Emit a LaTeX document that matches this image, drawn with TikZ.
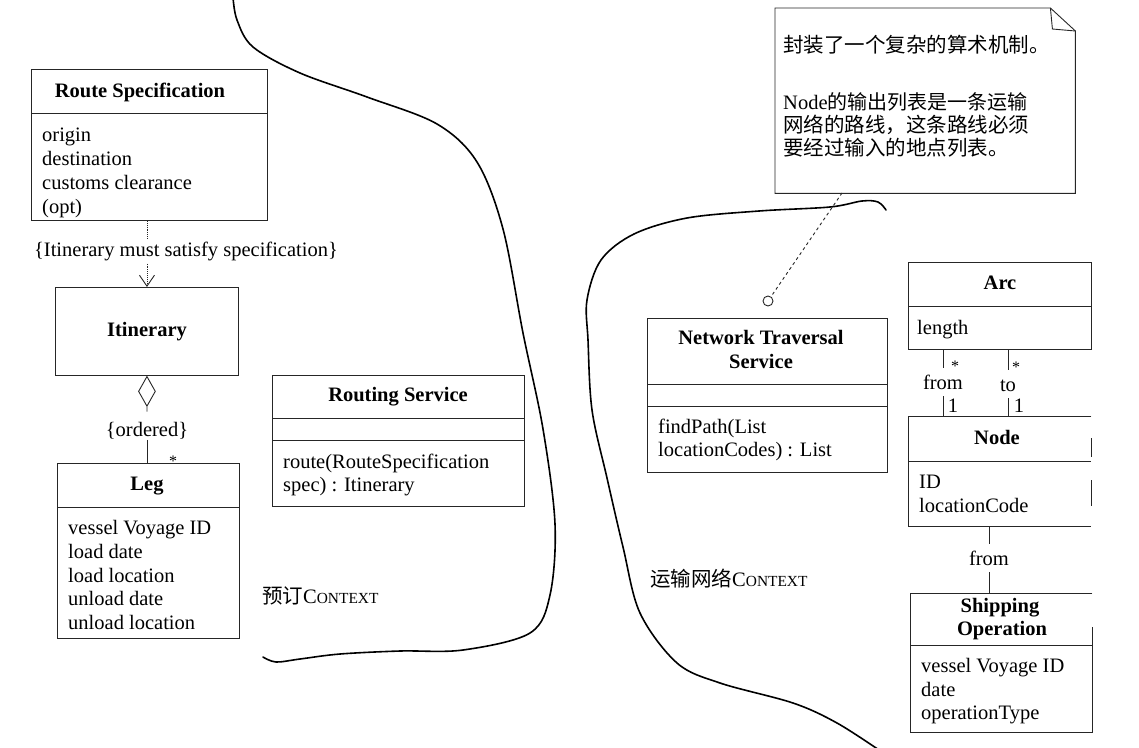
\documentclass[tikz,border=0pt]{standalone}
\usepackage{fontspec}
\setmainfont{Liberation Serif}
\newfontfamily\cjk{Noto Sans CJK SC}
\usetikzlibrary{shapes.geometric,arrows.meta}
\newcommand{\ctxword}{C{\fontsize{15.4}{18}\selectfont ONTEXT}}
\begin{document}
\begin{tikzpicture}[x=1pt,y=-1pt,
  every node/.style={font=\fontsize{20.5}{24}\selectfont},
  cbox/.style={draw=black!85, line width=0.9pt, inner sep=0pt, anchor=north west},
  hbox/.style={draw=none, inner sep=0pt, anchor=north west},
  edge/.style={draw=black!85, line width=0.9pt},
  div/.style={draw=black!85, line width=0.9pt},
  ttl/.style={font=\fontsize{20.5}{24}\selectfont\bfseries, anchor=base, inner sep=0pt},
  attr/.style={anchor=base west, inner sep=0pt},
  lbl/.style={anchor=base, inner xsep=0pt, inner ysep=3pt},
  role/.style={anchor=base, text height=14pt, text depth=0pt, inner ysep=7pt, inner xsep=0pt},
  mult/.style={anchor=base, inner sep=0pt, font=\fontsize{16}{18}\selectfont},
  one/.style={anchor=base, inner sep=0pt},
  ctx/.style={anchor=base west, inner sep=0pt},
  boundary/.style={line width=1.6pt, line cap=round, line join=round}
]
\useasboundingbox (0,0) rectangle (1139,747);

% ---------- context boundaries ----------
\draw[boundary] plot[smooth, tension=0.55] coordinates {(233,-3) (237,20) (253,47) (300,73) (367,97) (437,124) (477,162) (503,229) (523,333) (543,429) (555,524) (550,595) (530,633) (463,650) (400,651) (340,654) (300,659) (276,662) (263,657)};
\draw[boundary] plot[smooth, tension=0.55] coordinates {(886,210) (878,202) (862,201) (830,207) (759,211) (687,218) (634,234) (601,260) (587,300) (588,340) (592,410) (607,478) (623,547) (640,613) (677,663) (720,683) (793,703) (837,723) (882,752)};

% ---------- Route Specification ----------
\node[cbox, minimum width=236pt, minimum height=151pt] (rs) at (31,69) {};
\draw[div] (rs.west |- 0,113) -- (rs.east |- 0,113);
\node[ttl] (rsT) at (140,97) {Route Specification};
\node[attr] (rs1) at (42,141) {origin};
\node[attr] (rs2) at (42,165) {destination};
\node[attr] (rs3) at (42,189) {customs clearance};
\node[attr] (rs4) at (42,213) {(opt)};

% ---------- Itinerary ----------
\node[cbox, minimum width=183pt, minimum height=88pt] (it) at (55,287) {};
\node[ttl] (itT) at (147,336) {Itinerary};

\node[lbl] (dep) at (186,256) {\{Itinerary must satisfy specification\}};
\draw[edge, densely dotted] (rs.south -| it.north) -- (dep.north -| it.north);
\draw[edge, densely dotted, -{Straight Barb[length=11pt,width=15pt]}] (dep.south -| it.north) -- (it.north);

% ---------- aggregation ----------
\node[draw=black!85, line width=0.9pt, diamond, minimum width=17pt, minimum height=30pt, inner sep=0pt, anchor=north] (dia) at (it.south) {};
\node[lbl, inner ysep=1pt] (ord) at (147,436) {\{ordered\}};
\draw[edge, shorten >=9pt] (dia.south) -- (ord.north);

% ---------- Leg ----------
\node[cbox, minimum width=182pt, minimum height=175pt] (leg) at (57,463) {};
\draw[div] (leg.west |- 0,507) -- (leg.east |- 0,507);
\node[ttl] (legT) at (147,490) {Leg};
\draw[edge] (ord.south) -- (leg.north -| ord.south);
\node[mult] (legM) at (173,466) {*};
\node[attr] (leg1) at (68,534) {vessel Voyage ID};
\node[attr] (leg2) at (68,558) {load date};
\node[attr] (leg3) at (68,582) {load location};
\node[attr] (leg4) at (68,605) {unload date};
\node[attr] (leg5) at (68,629) {unload location};

% ---------- Routing Service ----------
\node[cbox, minimum width=252pt, minimum height=131pt] (rsv) at (272,375) {};
\draw[div] (rsv.west |- 0,418) -- (rsv.east |- 0,418);
\draw[div] (rsv.west |- 0,440) -- (rsv.east |- 0,440);
\node[ttl] (rsvT) at (398,401) {Routing Service};
\node[attr] (rsv1) at (283,468) {route(RouteSpecification};
\node[attr] (rsv2) at (283,491) {spec) : Itinerary};

\node[ctx] (ctx1) at (262,603) {{\cjk 预订}\ctxword};

% ---------- Note ----------
\node[hbox, minimum width=300pt, minimum height=185pt] (note) at (775,8) {};
\draw[edge] (note.south west) -- (note.north west) -- ([xshift=-25pt]note.north east) -- ([yshift=-23pt]note.north east) -- (note.south east) -- cycle;
\draw[edge] ([xshift=-25pt]note.north east) -- ([xshift=-23pt,yshift=-21pt]note.north east) -- ([yshift=-23pt]note.north east);
\node[attr] (n1) at (783,52) {\cjk\fontsize{20.5}{24}\selectfont 封装了一个复杂的算术机制。};
\node[attr] (n2) at (783,109) {Node{\cjk\fontsize{20}{24}\selectfont 的输出列表是一条运输}};
\node[attr] (n3) at (783,132) {\cjk\fontsize{20.5}{24}\selectfont 网络的路线，这条路线必须};
\node[attr] (n4) at (783,155) {\cjk\fontsize{20.5}{24}\selectfont 要经过输入的地点列表。};

\node[circle, draw=black!85, line width=0.9pt, minimum size=10pt, inner sep=0pt] (ball) at (768,301) {};
\coordinate (noteFoot) at (842,193);
\draw[edge, dashed] (noteFoot) -- (ball);

% ---------- Network Traversal Service ----------
\node[cbox, minimum width=240pt, minimum height=154pt] (nts) at (647,318) {};
\draw[div] (nts.west |- 0,384) -- (nts.east |- 0,384);
\draw[div] (nts.west |- 0,406) -- (nts.east |- 0,406);
\node[ttl] (ntsT1) at (761,344) {Network Traversal};
\node[ttl] (ntsT2) at (761,368) {Service};
\node[attr] (nts1) at (658,433) {findPath(List};
\node[attr] (nts2) at (658,456) {locationCodes) : List};

\node[ctx] (ctx2) at (650,586) {{\cjk 运输网络}\ctxword};

% ---------- Arc ----------
\node[cbox, minimum width=183pt, minimum height=87pt] (arc) at (908,262) {};
\draw[div] (arc.west |- 0,306) -- (arc.east |- 0,306);
\node[ttl] (arcT) at (1000,289) {Arc};
\node[attr] (arc1) at (917,334) {length};

% ---------- Node ----------
\node[hbox, minimum width=183pt, minimum height=110pt] (nd) at (908,416) {};
\draw[edge] (nd.north east) -- (nd.north west) -- (nd.south west) -- (nd.south east);
\draw[edge] (nd.east |- 0,438) -- (nd.east |- 0,457);
\draw[edge] (nd.east |- 0,480) -- (nd.east |- 0,506);
\draw[div] (nd.west |- 0,461) -- (nd.east |- 0,461);
\node[ttl] (ndT) at (997,444) {Node};
\node[attr] (nd1) at (919,488) {ID};
\node[attr] (nd2) at (919,512) {locationCode};

% Arc -- Node associations
\node[role] (rf) at (943,389) {from};
\draw[edge] (arc.south -| rf) -- (rf.north);
\draw[edge] (rf.south) -- (nd.north -| rf);
\node[mult] (rfM) at (955,371) {*};
\node[one] (rf1) at (953,412) {1};
\node[role] (rt) at (1008,391) {to};
\draw[edge] (arc.south -| rt) -- (rt.north);
\draw[edge] (rt.south) -- (nd.north -| rt);
\node[mult] (rtM) at (1016,372) {*};
\node[one] (rt1) at (1019,412) {1};

% ---------- Shipping Operation ----------
\node[hbox, minimum width=182pt, minimum height=139pt] (so) at (910,593) {};
\draw[edge] (so.north east) -- (so.north west) -- (so.south west) -- (so.south east) -- (so.east |- 0,627);
\draw[div] (so.west |- 0,645) -- (so.east |- 0,645);
\node[ttl] (soT1) at (1000,612) {Shipping};
\node[ttl] (soT2) at (1002,635) {Operation};
\node[attr] (so1) at (921,672) {vessel Voyage ID};
\node[attr] (so2) at (921,696) {date};
\node[attr] (so3) at (921,719) {operationType};

\node[role] (rf2) at (989,565) {from};
\draw[edge] (nd.south -| rf2) -- (rf2.north);
\draw[edge] (rf2.south) -- (so.north -| rf2);
\end{tikzpicture}
\end{document}
